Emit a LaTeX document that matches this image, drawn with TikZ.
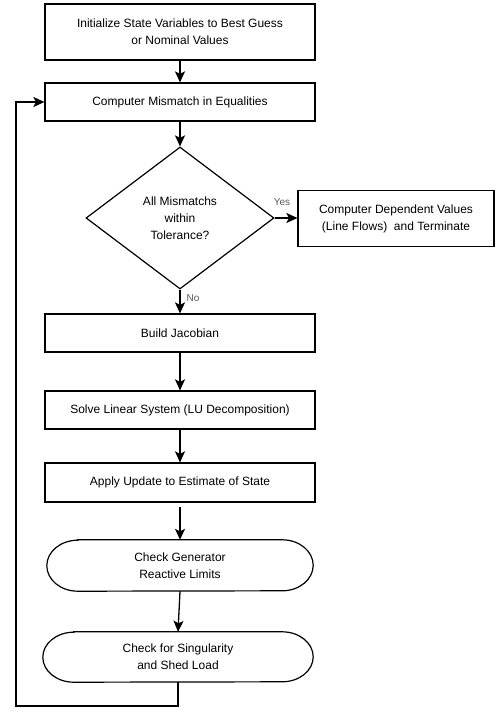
\documentclass[tikz,border=0pt]{standalone}
\usepackage{fontspec}
\setmainfont{Liberation Sans}
\usetikzlibrary{shapes.geometric,arrows.meta}
\begin{document}
\begin{tikzpicture}[x=1pt,y=-1pt,
  txt/.style={font=\fontsize{12}{17}\selectfont, align=center},
  box/.style={txt, draw, line width=1.2pt, rectangle, minimum width=270pt, inner sep=0pt},
  dec/.style={txt, draw, line width=1.2pt, diamond, shape aspect=1.32, minimum width=188pt, minimum height=142pt, inner sep=0pt},
  term/.style={txt, rectangle, inner sep=0pt},
  termline/.style={line width=1.2pt},
  arr/.style={-{Stealth[length=11pt,width=10pt,inset=2.5pt]}, line width=1.3pt},
  lab/.style={font=\fontsize{10}{12}\selectfont, text=black!65, inner sep=0pt}]
\useasboundingbox (0,0) rectangle (495,711);

\node[box, minimum height=56pt] (b1) at (180,32) {Initialize State Variables to Best Guess\\or Nominal Values};
\node[box, minimum height=38pt] (b2) at (180,102) {Computer Mismatch in Equalities};
\node[dec] (d) at (180,218) {All Mismatchs\\within\\Tolerance?};
\node[box, minimum width=196pt, minimum height=56pt] (b3) at (396,218.5) {Computer Dependent Values\\(Line Flows)~ and Terminate};
\node[box, minimum height=38pt] (b4) at (180,333) {Build Jacobian};
\node[box, minimum height=38pt] (b5) at (180,410) {Solve Linear System (LU Decomposition)};
\node[box, minimum height=39pt] (b6) at (180,482.5) {Apply Update to Estimate of State};
\node[term, minimum width=266pt, minimum height=51pt] (t1) at (180,565.5) {Check Generator\\Reactive Limits};
\node[term, minimum width=270pt, minimum height=50pt] (t2) at (178,657) {Check for Singularity\\and Shed Load};

\draw[termline] ([xshift=31pt]t1.north west) -- ([xshift=-31pt]t1.north east)
  arc[start angle=90, end angle=-90, x radius=31pt, y radius=25.5pt]
  -- ([xshift=31pt]t1.south west)
  arc[start angle=270, end angle=90, x radius=31pt, y radius=25.5pt] -- cycle;
\draw[termline] ([xshift=31pt]t2.north west) -- ([xshift=-31pt]t2.north east)
  arc[start angle=90, end angle=-90, x radius=31pt, y radius=25pt]
  -- ([xshift=31pt]t2.south west)
  arc[start angle=270, end angle=90, x radius=31pt, y radius=25pt] -- cycle;

\node[lab] (yes) at (282,202) {Yes};
\node[lab] (no) at (193,298) {No};
\coordinate (loop) at (16,706);

\draw[arr] (b1) -- (b2);
\draw[arr] (b2) -- (d);
\draw[arr] (d.east) -- (d.east -| b3.west);
\draw[arr] (d) -- (b4);
\draw[arr] (b4) -- (b5);
\draw[arr] (b5) -- (b6);
\draw[arr, shorten <=4pt] (b6) -- (t1);
\draw[arr] (t1.south) -- (t2.north);
\draw[arr] (t2.south) |- (loop) |- (b2.west);
\end{tikzpicture}
\end{document}
